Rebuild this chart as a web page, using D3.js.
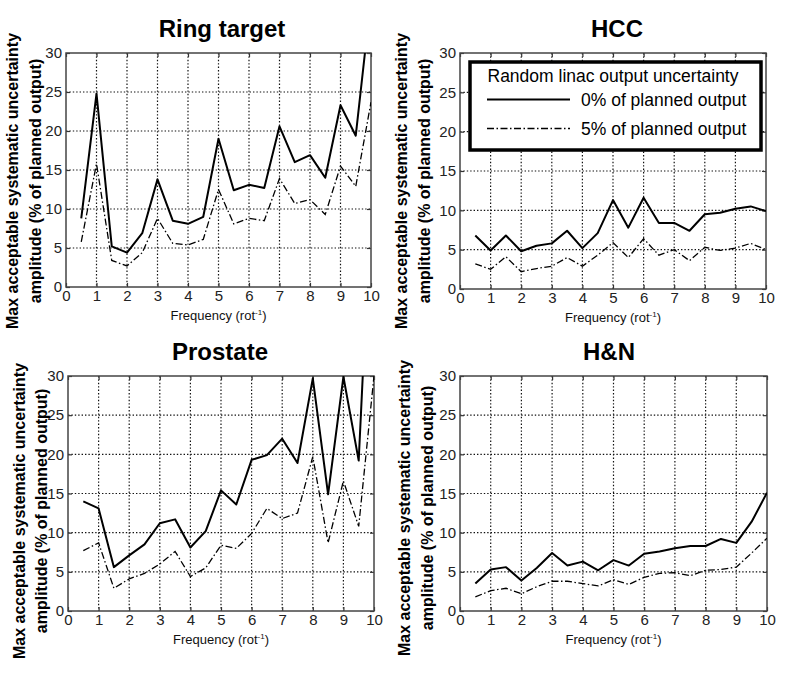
<!DOCTYPE html>
<html>
<head>
<meta charset="utf-8">
<title>Max acceptable systematic uncertainty amplitude</title>
<script src="https://d3js.org/d3.v7.min.js"></script>
<style>
  body { margin: 0; background: #fff; }
  svg { display: block; font-family: "Liberation Sans", Arial, sans-serif; }
</style>
</head>
<body>
<svg></svg>
<script>
// frequencies (rot^-1) shared by every panel
const freqs = [0.5, 1, 1.5, 2, 2.5, 3, 3.5, 4, 4.5, 5, 5.5, 6, 6.5, 7, 7.5, 8, 8.5, 9, 9.5, 10];
const xTicks = [0, 1, 2, 3, 4, 5, 6, 7, 8, 9, 10];
const yTicks = [0, 5, 10, 15, 20, 25, 30];

// values (% of planned output)
const ringSolid = [8.8, 24.8, 5.2, 4.4, 6.9, 13.8, 8.5, 8.1, 9.0, 19.0, 12.4, 13.1, 12.7, 20.6, 16.0, 16.9, 14.0, 23.3, 19.4, 37];
const ringDashed = [5.8, 15.8, 3.4, 2.7, 4.4, 8.8, 5.6, 5.4, 6.1, 12.5, 8.1, 8.8, 8.5, 13.9, 10.7, 11.2, 9.3, 15.5, 12.9, 23.7];
const hccSolid = [6.8, 4.9, 6.8, 4.8, 5.5, 5.8, 7.4, 5.2, 7.1, 11.3, 7.8, 11.6, 8.4, 8.4, 7.4, 9.5, 9.7, 10.2, 10.5, 9.9];
const hccDashed = [3.2, 2.5, 4.1, 2.2, 2.6, 2.9, 4.0, 2.9, 4.3, 5.9, 4.0, 6.4, 4.3, 5.0, 3.6, 5.3, 4.9, 5.2, 5.8, 5.0];
const prostateSolid = [14.0, 13.1, 5.6, 7.1, 8.5, 11.2, 11.7, 8.1, 10.2, 15.4, 13.6, 19.3, 19.9, 22.0, 18.9, 29.7, 14.9, 29.9, 19.2, 60];
const prostateDashed = [7.7, 8.7, 2.9, 4.1, 4.8, 6.0, 7.6, 4.4, 5.5, 8.4, 8.0, 9.9, 13.1, 11.8, 12.5, 19.7, 8.7, 16.6, 10.8, 30];
const hnSolid = [3.5, 5.3, 5.6, 3.9, 5.5, 7.4, 5.8, 6.3, 5.2, 6.5, 5.8, 7.3, 7.6, 8.0, 8.3, 8.3, 9.2, 8.7, 11.4, 15.1];
const hnDashed = [1.8, 2.6, 2.9, 2.2, 3.1, 3.8, 3.8, 3.5, 3.2, 4.0, 3.4, 4.3, 4.8, 4.9, 4.5, 5.2, 5.3, 5.6, 7.4, 9.3];

const legendTitle = 'Random linac output uncertainty';
const legendLabels = ['0% of planned output', '5% of planned output'];

const panels = [
  { id: 'ring', title: 'Ring target', solid: ringSolid, dashed: ringDashed,
    left: 66, right: 371, top: 53, bottom: 287, yl1: 18, yl2: 41, ylc: 181, tx: 222 },
  { id: 'hcc', title: 'HCC', solid: hccSolid, dashed: hccDashed,
    left: 460, right: 766, top: 53, bottom: 289, yl1: 407, yl2: 430, ylc: 181, tx: 617, legend: true },
  { id: 'prostate', title: 'Prostate', solid: prostateSolid, dashed: prostateDashed,
    left: 68, right: 374, top: 376, bottom: 611, yl1: 25, yl2: 47, ylc: 511, tx: 220 },
  { id: 'hn', title: 'H&N', solid: hnSolid, dashed: hnDashed,
    left: 460, right: 767, top: 376, bottom: 611, yl1: 410, yl2: 433, ylc: 508, tx: 609 }
];

const svg = d3.select('svg').attr('width', 788).attr('height', 675);
const defs = svg.append('defs');
const dashDot = '7,2.5,1.5,2.5';

panels.forEach(p => {
  const w = p.right - p.left, h = p.bottom - p.top;
  const x = d3.scaleLinear().domain([0, 10]).range([0, w]);
  const y = d3.scaleLinear().domain([0, 30]).range([h, 0]);

  defs.append('clipPath').attr('id', 'clip-' + p.id)
    .append('rect').attr('width', w).attr('height', h);

  const g = svg.append('g').attr('transform', `translate(${p.left},${p.top})`);

  // dotted grid
  g.append('g').selectAll('line').data(xTicks.slice(1, -1)).join('line')
    .attr('x1', d => x(d)).attr('x2', d => x(d)).attr('y1', 0).attr('y2', h)
    .attr('stroke', '#111').attr('stroke-width', 1.2).attr('stroke-dasharray', '1.4,2');
  g.append('g').selectAll('line').data(yTicks.slice(1, -1)).join('line')
    .attr('x1', 0).attr('x2', w).attr('y1', d => y(d)).attr('y2', d => y(d))
    .attr('stroke', '#111').attr('stroke-width', 1.2).attr('stroke-dasharray', '1.4,2');

  // axes with inward ticks on all four sides
  const bottomAxis = g.append('g').attr('transform', `translate(0,${h})`)
    .call(d3.axisBottom(x).tickValues(xTicks).tickSize(-4).tickSizeOuter(0).tickPadding(3));
  const leftAxis = g.append('g')
    .call(d3.axisLeft(y).tickValues(yTicks).tickSize(-4).tickSizeOuter(0).tickPadding(4));
  const topAxis = g.append('g')
    .call(d3.axisTop(x).tickValues(xTicks).tickSize(-4).tickSizeOuter(0).tickFormat(''));
  const rightAxis = g.append('g').attr('transform', `translate(${w},0)`)
    .call(d3.axisRight(y).tickValues(yTicks).tickSize(-4).tickSizeOuter(0).tickFormat(''));
  [bottomAxis, leftAxis, topAxis, rightAxis].forEach(a => {
    a.attr('font-size', null).attr('font-family', null);
    a.select('.domain').remove();
    a.selectAll('.tick line').attr('stroke', '#333').attr('stroke-width', 1.2);
    a.selectAll('.tick text').attr('font-size', 15).attr('fill', '#222');
  });

  // frame
  g.append('rect').attr('width', w).attr('height', h)
    .attr('fill', 'none').attr('stroke', '#444').attr('stroke-width', 1.5);

  // data lines
  const line = d3.line().x((d, i) => x(freqs[i])).y(d => y(d));
  const lines = g.append('g').attr('clip-path', `url(#clip-${p.id})`);
  lines.append('path').datum(p.dashed).attr('d', line)
    .attr('fill', 'none').attr('stroke', '#000').attr('stroke-width', 1.3)
    .attr('stroke-dasharray', dashDot);
  lines.append('path').datum(p.solid).attr('d', line)
    .attr('fill', 'none').attr('stroke', '#000').attr('stroke-width', 2)
    .attr('stroke-linejoin', 'round');

  // title
  svg.append('text').attr('x', p.tx).attr('y', p.top - 16)
    .attr('text-anchor', 'middle').attr('font-size', 24).attr('font-weight', 'bold')
    .text(p.title);

  // x label with superscript
  const xl = svg.append('text').attr('x', (p.left + p.right) / 2).attr('y', p.bottom + 33)
    .attr('text-anchor', 'middle').attr('font-size', 13).attr('fill', '#111');
  xl.append('tspan').text('Frequency (rot');
  xl.append('tspan').attr('font-size', 8).attr('dy', -5).text('-1');
  xl.append('tspan').attr('dy', 5).text(')');

  // y label, two lines
  [['Max acceptable systematic uncertainty', p.yl1], ['amplitude (% of planned output)', p.yl2]]
    .forEach(([t, xx]) => {
      svg.append('text').attr('transform', `translate(${xx},${p.ylc}) rotate(-90)`)
        .attr('text-anchor', 'middle').attr('font-size', 16).attr('font-weight', 'bold')
        .text(t);
    });

  // legend
  if (p.legend) {
    const lg = g.append('g').attr('transform', 'translate(10,9)');
    lg.append('rect').attr('width', 291).attr('height', 88)
      .attr('fill', '#fff').attr('stroke', '#000').attr('stroke-width', 3.5);
    lg.append('text').attr('x', 143).attr('y', 20).attr('text-anchor', 'middle')
      .attr('font-size', 17.5).text(legendTitle);
    legendLabels.forEach((lab, i) => {
      const ly = 37.5 + i * 29;
      lg.append('line').attr('x1', 17).attr('x2', 100).attr('y1', ly).attr('y2', ly)
        .attr('stroke', '#000').attr('stroke-width', i ? 1.6 : 2)
        .attr('stroke-dasharray', i ? dashDot : null);
      lg.append('text').attr('x', 111).attr('y', ly + 6).attr('font-size', 17.5).text(lab);
    });
  }
});
</script>
</body>
</html>
